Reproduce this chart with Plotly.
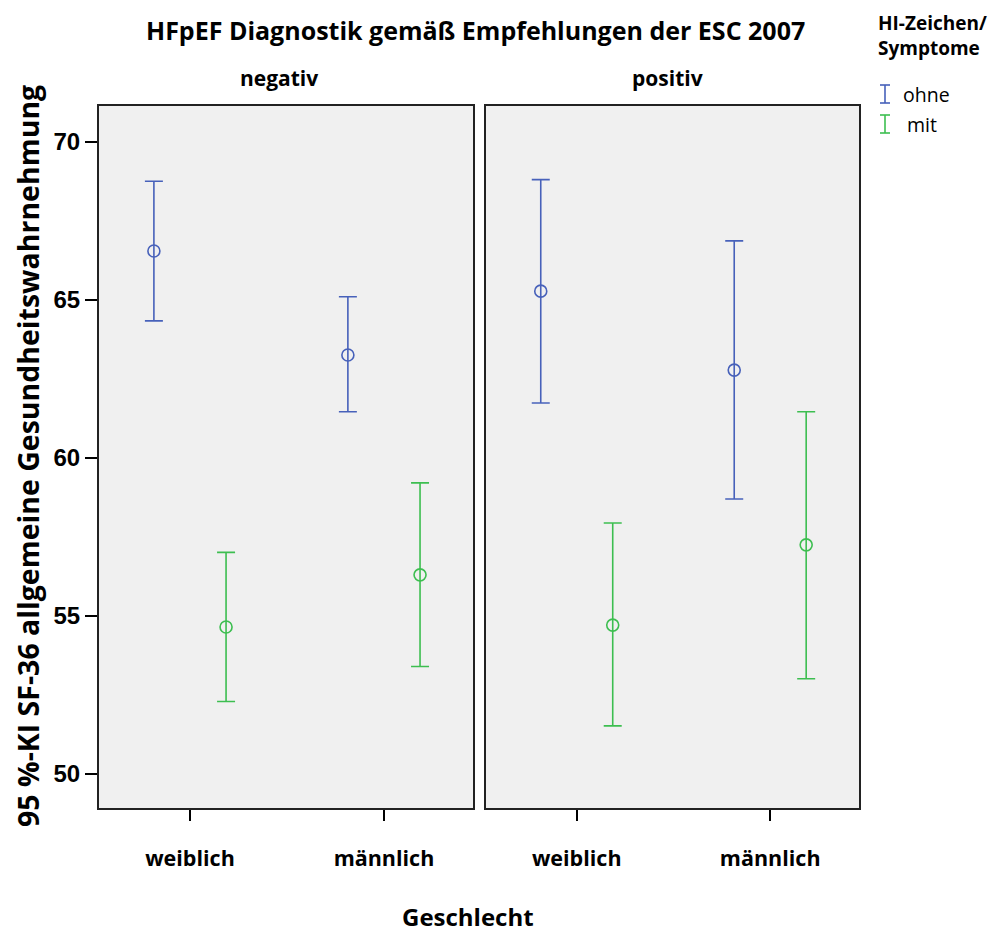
import plotly.graph_objects as go

# Categories
sexes = ["weiblich", "männlich"]
panels = ["negativ", "positiv"]
groups = ["ohne", "mit"]

# Mean and 95 % CI of SF-36 general health, per panel and group (order: weiblich, männlich)
neg_ohne_mean = [66.54, 63.25]
neg_ohne_lo = [64.33, 61.45]
neg_ohne_hi = [68.75, 65.09]

neg_mit_mean = [54.64, 56.29]
neg_mit_lo = [52.28, 53.39]
neg_mit_hi = [57.00, 59.20]

pos_ohne_mean = [65.27, 62.77]
pos_ohne_lo = [61.73, 58.69]
pos_ohne_hi = [68.80, 66.86]

pos_mit_mean = [54.70, 57.24]
pos_mit_lo = [51.51, 53.00]
pos_mit_hi = [57.93, 61.45]

y_ticks = [50, 55, 60, 65, 70]

W, H = 1008, 934
BLUE = "#4761BA"
GREEN = "#3DBE50"
BG = "#F0F0F0"
TXT = "Open Sans"
NUM = "Liberation Sans"

def px(x):
    return x / W

def py(y):
    return 1 - y / H

fig = go.Figure()

offset = {"ohne": -0.186, "mit": 0.186}
colors = {"ohne": BLUE, "mit": GREEN}

series = [
    ("x", "y", "ohne", neg_ohne_mean, neg_ohne_lo, neg_ohne_hi),
    ("x", "y", "mit", neg_mit_mean, neg_mit_lo, neg_mit_hi),
    ("x2", "y2", "ohne", pos_ohne_mean, pos_ohne_lo, pos_ohne_hi),
    ("x2", "y2", "mit", pos_mit_mean, pos_mit_lo, pos_mit_hi),
]

for xa, ya, grp, mean, lo, hi in series:
    xs = [i + offset[grp] for i in range(len(sexes))]
    fig.add_trace(go.Scatter(
        x=xs, y=mean, xaxis=xa, yaxis=ya, mode="markers",
        name=grp, showlegend=False,
        marker=dict(symbol="circle-open", size=12, color=colors[grp],
                    line=dict(width=1.6, color=colors[grp])),
        error_y=dict(type="data", symmetric=False,
                     array=[h - m for h, m in zip(hi, mean)],
                     arrayminus=[m - l for m, l in zip(mean, lo)],
                     color=colors[grp], thickness=1.6, width=9),
    ))

xrange = [-0.469, 1.459]
yrange = [48.91, 71.13]
ydom = [py(808), py(106)]

common_x = dict(range=xrange, tickvals=[0, 1], ticktext=sexes, ticks="outside",
                ticklen=11, tickwidth=1.5, tickcolor="black", ticklabelstandoff=19,
                showline=True, linecolor="#222", linewidth=2, mirror=True,
                showgrid=False, zeroline=False,
                tickfont=dict(family=TXT, size=21.5, color="black", weight="bold"))
common_y = dict(range=yrange, domain=ydom, showline=True, linecolor="#222",
                linewidth=2, mirror=True, showgrid=False, zeroline=False)

fig.update_layout(
    width=W, height=H,
    margin=dict(l=0, r=0, t=0, b=0),
    paper_bgcolor="white", plot_bgcolor=BG,
    showlegend=False,
    xaxis=dict(domain=[px(99), px(473)], anchor="y", **common_x),
    xaxis2=dict(domain=[px(486), px(859)], anchor="y2", **common_x),
    yaxis=dict(anchor="x", tickvals=y_ticks, ticks="outside", ticklen=12,
               tickwidth=1.5, tickcolor="black", ticklabelstandoff=0,
               tickfont=dict(family=NUM, size=24, color="black", weight="bold"),
               **common_y),
    yaxis2=dict(anchor="x2", showticklabels=False, ticks="", **common_y),
)

annotations = [
    dict(text="HFpEF Diagnostik gemäß Empfehlungen der ESC 2007", x=px(475), y=py(30),
         font=dict(family=TXT, size=25, weight="bold")),
    dict(text=panels[0], x=px(279), y=py(78), font=dict(family=TXT, size=21, weight="bold")),
    dict(text=panels[1], x=px(667), y=py(78), font=dict(family=TXT, size=21, weight="bold")),
    dict(text="Geschlecht", x=px(468), y=py(916), font=dict(family=TXT, size=24, weight="bold")),
    dict(text="95 %-KI SF-36 allgemeine Gesundheitswahrnehmung", x=px(28), y=py(456),
         textangle=-90, font=dict(family=TXT, size=28.5, weight="bold")),
    dict(text="HI-Zeichen/<br>Symptome", x=px(876), y=py(36), xanchor="left",
         align="left", font=dict(family=TXT, size=19, weight="bold")),
    dict(text=groups[0], x=px(901), y=py(95), xanchor="left", font=dict(family=TXT, size=19.5)),
    dict(text=groups[1], x=px(905), y=py(124), xanchor="left", font=dict(family=TXT, size=19.5)),
]
for a in annotations:
    a.setdefault("xanchor", "center")
    a["font"].setdefault("color", "black")
    fig.add_annotation(xref="paper", yref="paper", showarrow=False, yanchor="middle", **a)

# legend keys: small error-bar glyphs
for (y0, y1), c in [((85, 103), BLUE), ((115, 133), GREEN)]:
    xc = 885
    for x0, ya, x1, yb in [(xc, y0, xc, y1), (xc - 5, y0, xc + 5, y0), (xc - 5, y1, xc + 5, y1)]:
        fig.add_shape(type="line", xref="paper", yref="paper",
                      x0=px(x0), y0=py(ya), x1=px(x1), y1=py(yb),
                      line=dict(color=c, width=1.6))

fig.write_html("out.html")
